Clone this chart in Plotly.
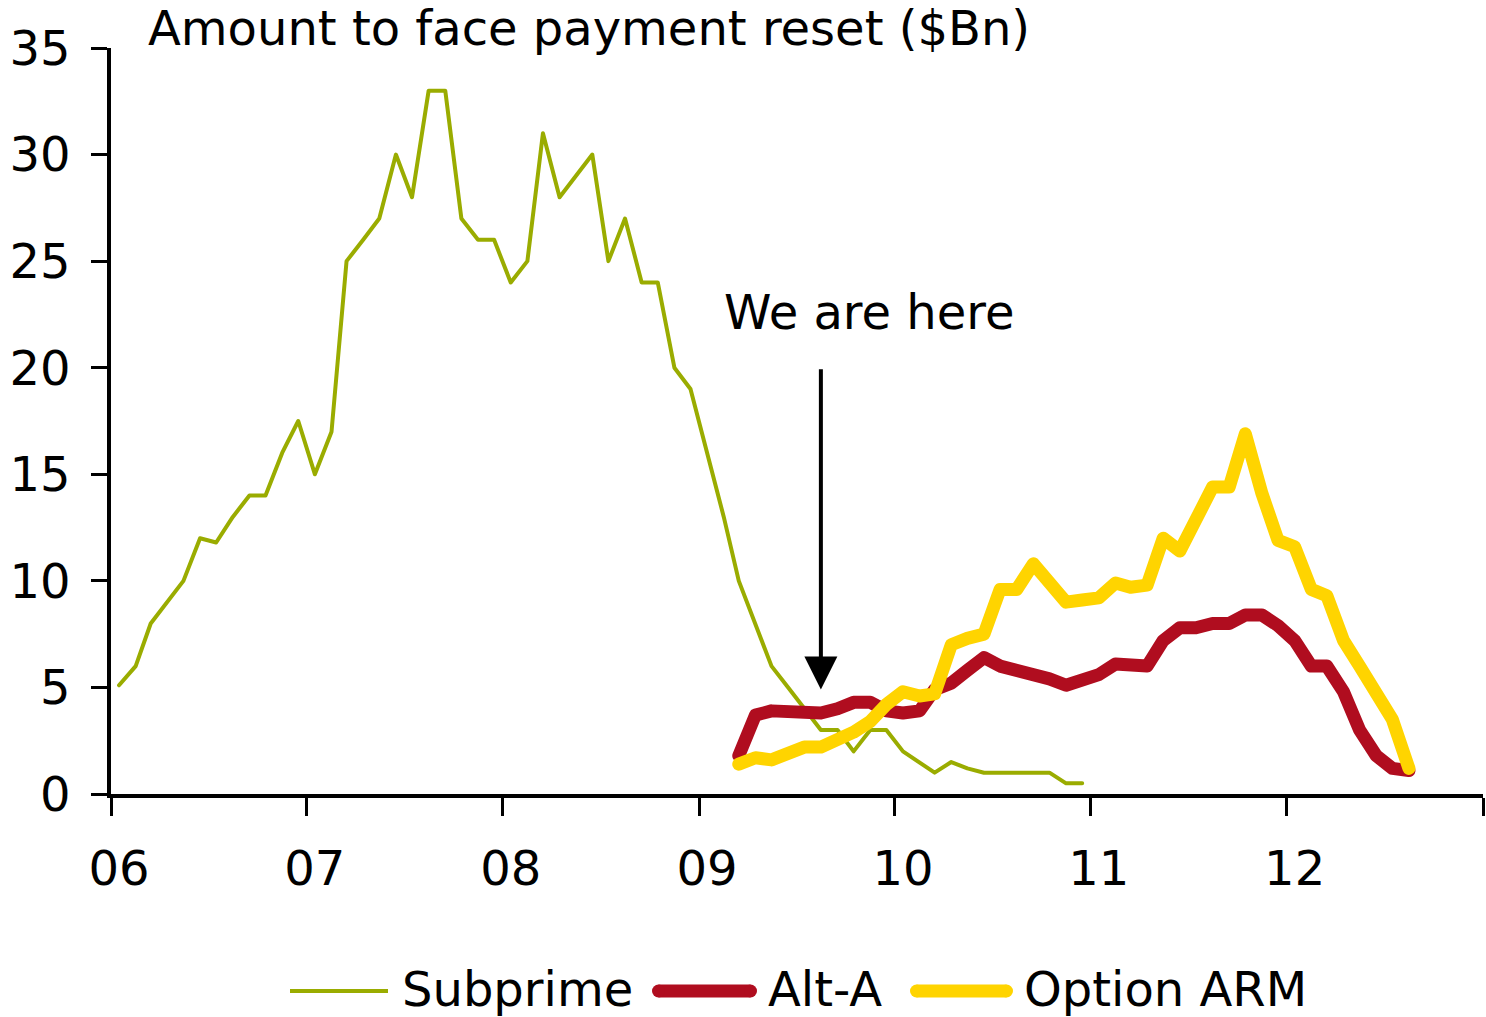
import pandas as pd
import plotly.graph_objects as go

# ---- data (monthly, $Bn) ----
subprime_start = "2006-01"
subprime = [5.1, 6, 8, 9, 10, 12, 11.8, 13, 14, 14, 16, 17.5,
            15, 17, 25, 26, 27, 30, 28, 33, 33, 27, 26, 26,
            24, 25, 31, 28, 29, 30, 25, 27, 24, 24, 20, 19,
            16, 13, 10, 8, 6, 5, 4, 3, 3, 2, 3, 3,
            2, 1.5, 1, 1.5, 1.2, 1, 1, 1, 1, 1, 0.5, 0.5]

alt_start = "2009-03"
alt_a = [1.8, 3.7, 3.9, 3.9, 3.8, 3.8, 4.0, 4.3, 4.3, 3.9, 3.8, 3.9,
         4.9, 5.2, 5.8, 6.4, 6.0, 5.8, 5.7, 5.4, 5.1, 5.3, 5.6, 6.1,
         6.0, 6.0, 7.2, 7.8, 7.8, 8.0, 8.0, 8.4, 8.4, 7.9, 7.2, 6.0,
         6.0, 4.8, 3.0, 1.8, 1.2, 1.1]
option_arm = [1.4, 1.7, 1.6, 1.9, 2.2, 2.2, 2.5, 2.9, 3.4, 4.2, 4.8, 4.6,
              4.7, 7.0, 7.3, 7.5, 9.6, 9.6, 10.8, 9.9, 9.0, 9.1, 9.2, 9.9,
              9.7, 9.8, 12.0, 11.4, 12.9, 14.4, 14.4, 16.9, 14.1, 11.9, 11.6, 9.6,
              9.3, 7.2, 6.0, 4.8, 3.5, 1.2]

year_ticks = ["2006-01-01", "2007-01-01", "2008-01-01", "2009-01-01",
              "2010-01-01", "2011-01-01", "2012-01-01", "2013-01-01"]
year_labels = ["06", "07", "08", "09", "10", "11", "12", ""]

series_names = ["Subprime", "Alt-A", "Option ARM"]
colors = ["#9AAC00", "#B00D1F", "#FFD400"]
widths = [4, 13, 13]

def months(start, n):
    return pd.date_range(start=start + "-01", periods=n, freq="MS") + pd.Timedelta(days=15)

x_sub = months(subprime_start, len(subprime))
x_alt = months(alt_start, len(alt_a))

FONT = "DejaVu Sans"
FS = 48

fig = go.Figure()
fig.add_trace(go.Scatter(x=x_sub, y=subprime, mode="lines", name=series_names[0],
                         line=dict(color=colors[0], width=widths[0])))
fig.add_trace(go.Scatter(x=x_alt, y=alt_a, mode="lines", name=series_names[1],
                         line=dict(color=colors[1], width=widths[1])))
fig.add_trace(go.Scatter(x=x_alt, y=option_arm, mode="lines", name=series_names[2],
                         line=dict(color=colors[2], width=widths[2])))

W, H = 1486, 1017
L, R, T, B = 111, 3, 48, 223
PW, PH = W - L - R, H - T - B

def px_x(px):
    return (px - L) / PW

def px_y(py):
    return (H - B - py) / PH

fig.update_layout(
    width=W, height=H,
    margin=dict(l=L, r=R, t=T, b=B, autoexpand=False),
    paper_bgcolor="white", plot_bgcolor="white",
    showlegend=False,
    font=dict(family=FONT, size=FS, color="black"),
    xaxis=dict(range=["2006-01-01", "2013-01-01"], type="date",
               tickvals=year_ticks, ticktext=year_labels, automargin=False,
               showline=True, linecolor="black", linewidth=3.5,
               ticks="outside", ticklen=18, tickwidth=3, tickcolor="black",
               showgrid=False, zeroline=False,
               ticklabelshift=8, ticklabelstandoff=12,
               tickfont=dict(family=FONT, size=FS, color="black")),
    yaxis=dict(range=[0, 35], dtick=5, tick0=0, automargin=False,
               showline=True, linecolor="black", linewidth=3.5,
               ticks="outside", ticklen=16, tickwidth=3, tickcolor="black",
               showgrid=False, zeroline=False,
               ticklabelstandoff=11,
               tickfont=dict(family=FONT, size=FS, color="black")),
)

# title
fig.add_annotation(text="Amount to face payment reset ($Bn)", xref="paper", yref="paper",
                   x=px_x(146), y=px_y(28), xanchor="left", yanchor="middle",
                   showarrow=False, font=dict(family=FONT, size=FS, color="black"))

# "We are here" arrow + label
fig.add_annotation(x="2009-08-16", y=4.9, ax="2009-08-16", ay=20.0,
                   xref="x", yref="y", axref="x", ayref="y", text="",
                   showarrow=True, arrowhead=2, arrowsize=1.65, arrowwidth=4,
                   arrowcolor="black", standoff=0, startstandoff=0)
fig.add_annotation(x="2009-11-14", y=22.6, xref="x", yref="y", text="We are here",
                   showarrow=False, xanchor="center", yanchor="middle",
                   font=dict(family=FONT, size=FS, color="black"))

# custom legend
legend_items = [(290, 388, 400), (652, 757, 766), (910, 1013, 1022)]
ly = 989
for (x0, x1, tx), name, c, w in zip(legend_items, series_names, colors, widths):
    fig.add_shape(type="line", xref="paper", yref="paper",
                  x0=px_x(x0 + (w / 2 if w > 5 else 0)), x1=px_x(x1 - (w / 2 if w > 5 else 0)),
                  y0=px_y(ly + 2), y1=px_y(ly + 2), line=dict(color=c, width=w))
    if w > 5:
        for cx in (x0 + w / 2, x1 - w / 2):
            fig.add_shape(type="circle", xref="paper", yref="paper",
                          x0=px_x(cx - w / 2), x1=px_x(cx + w / 2),
                          y0=px_y(ly + 2 + w / 2), y1=px_y(ly + 2 - w / 2),
                          fillcolor=c, line=dict(width=0))
    fig.add_annotation(text=name, xref="paper", yref="paper", x=px_x(tx), y=px_y(ly),
                       xanchor="left", yanchor="middle", showarrow=False,
                       font=dict(family=FONT, size=FS, color="black"))

post = (
    "document.body.style.margin='0';document.body.style.overflow='hidden';"
    "document.querySelectorAll('.scatterlayer path.js-line').forEach(function(p){"
    "p.style.strokeLinejoin='round';p.style.strokeLinecap='round';});"
)
fig.write_html("out.html", config={"displayModeBar": False}, post_script=post)
